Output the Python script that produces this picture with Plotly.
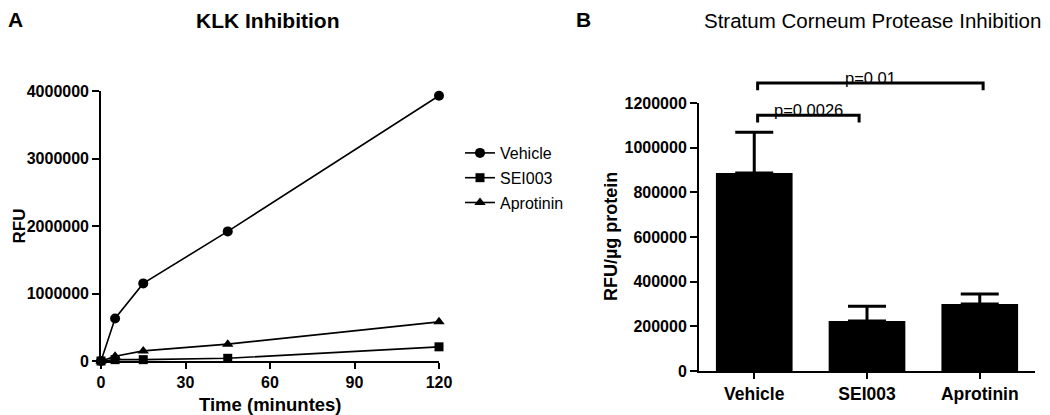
import plotly.graph_objects as go

# ---------------- Data ----------------
time_min = [0, 5, 15, 45, 120]
vehicle = [0, 630000, 1150000, 1920000, 3930000]
sei003 = [0, 20000, 20000, 40000, 210000]
aprotinin = [0, 70000, 150000, 250000, 580000]

klk_ticks = [0, 1000000, 2000000, 3000000, 4000000]
time_ticks = [0, 30, 60, 90, 120]

groups = ["Vehicle", "SEI003", "Aprotinin"]
rfu_per_ug = [887000, 224000, 300000]
rfu_sem = [182000, 66000, 45000]
sc_ticks = [0, 200000, 400000, 600000, 800000, 1000000, 1200000]

# significance brackets
bracket_x0 = [0.03, 0.03]
bracket_x1 = [0.93, 2.03]
bracket_y = [1145000, 1289000]
bracket_labels = ["p=0.0026", "p=0.01"]

FONT = "Liberation Sans, Arial, sans-serif"
OFF = 8                      # page body margin
W, H = 1050 - 2 * OFF, 415 - OFF


def xp(px):
    return (px - OFF) / W


def yp(py):
    return 1 - (py - OFF) / H


fig = go.Figure()

# ---------------- Panel A ----------------
series = [("Vehicle", vehicle, "circle", 10),
          ("SEI003", sei003, "square", 9),
          ("Aprotinin", aprotinin, "triangle-up", 10)]
for name, vals, sym, sz in series:
    fig.add_trace(go.Scatter(
        x=time_min, y=vals, name=name, mode="lines+markers",
        line=dict(color="black", width=1.6),
        marker=dict(symbol=sym, size=sz, color="black"),
        cliponaxis=False, legendgroup=name,
        xaxis="x", yaxis="y"))

# ---------------- Panel B ----------------
fig.add_trace(go.Bar(
    x=groups, y=rfu_per_ug, marker=dict(color="black", line=dict(width=0)),
    width=0.68, showlegend=False,
    error_y=dict(type="data", array=rfu_sem, arrayminus=[0] * len(rfu_sem),
                 symmetric=False, color="black", thickness=3, width=19),
    xaxis="x2", yaxis="y2"))

# bracket overlay subplot sharing scale with panel B
d_bot = yp(371)
d2_top = yp(103)
d3_top = 0.97
y3_top = sc_ticks[-1] * (d3_top - d_bot) / (d2_top - d_bot)

drop = 32000
for x0, x1, yb in zip(bracket_x0, bracket_x1, bracket_y):
    fig.add_trace(go.Scatter(
        x=[x0, x0, x1, x1], y=[yb - drop, yb, yb, yb - drop],
        mode="lines", line=dict(color="black", width=3),
        showlegend=False, hoverinfo="skip",
        xaxis="x3", yaxis="y3"))

annotations = []
for x0, x1, yb, lab in zip(bracket_x0, bracket_x1, bracket_y, bracket_labels):
    annotations.append(dict(
        x=(x0 + x1) / 2, y=yb, xref="x3", yref="y3", text=lab,
        showarrow=False, yanchor="middle", yshift=5,
        font=dict(family=FONT, size=16.5, color="black")))


def axis_common(size):
    return dict(showline=True, linecolor="black", showgrid=False,
                zeroline=False, ticks="outside", tickcolor="black",
                automargin=False,
                tickfont=dict(family=FONT, size=size, color="black",
                              weight="bold"))


fig.update_layout(
    template="none",
    width=W, height=H,
    margin=dict(l=0, r=0, t=0, b=0, pad=0, autoexpand=False),
    paper_bgcolor="white", plot_bgcolor="rgba(0,0,0,0)",
    font=dict(family=FONT, color="black"),
    xaxis=dict(domain=[xp(101), xp(439)], range=[0, 120],
               tickvals=time_ticks, ticklen=6, tickwidth=1.6, linewidth=1.6,
               anchor="y", **axis_common(16)),
    yaxis=dict(domain=[yp(361), yp(91)], range=[0, 4000000],
               tickvals=klk_ticks, ticktext=[str(v) for v in klk_ticks],
               ticklen=7, tickwidth=1.6, linewidth=1.6, anchor="x",
               **axis_common(16)),
    xaxis2=dict(domain=[xp(699), xp(1035)], range=[-0.49, 2.49],
                type="category", ticklen=6, tickwidth=2, linewidth=2,
                anchor="y2", **axis_common(17.5)),
    yaxis2=dict(domain=[d_bot, d2_top], range=[0, sc_ticks[-1]],
                tickvals=sc_ticks, ticktext=[str(v) for v in sc_ticks],
                ticklen=7, tickwidth=2, linewidth=2, anchor="x2",
                **axis_common(16)),
    xaxis3=dict(domain=[xp(699), xp(1035)], range=[-0.49, 2.49],
                visible=False, anchor="y3", automargin=False),
    yaxis3=dict(domain=[d_bot, d3_top], range=[0, y3_top],
                visible=False, anchor="x3", automargin=False),
    showlegend=True,
    legend=dict(x=xp(460), y=yp(136), xanchor="left", yanchor="top",
                font=dict(family=FONT, size=16, color="black"),
                tracegroupgap=1, traceorder="grouped",
                bgcolor="rgba(0,0,0,0)", borderwidth=0),
    bargap=0.32,
)

annotations += [
    dict(text="<b>A</b>", x=0, y=1, xref="paper", yref="paper",
         showarrow=False, xanchor="left", yanchor="top", xshift=-2, yshift=2,
         font=dict(family=FONT, size=21)),
    dict(text="<b>B</b>", x=xp(574), y=1, xref="paper", yref="paper",
         showarrow=False, xanchor="left", yanchor="top", yshift=2,
         font=dict(family=FONT, size=21)),
    dict(text="<b>KLK Inhibition</b>", x=xp(267), y=yp(21),
         xref="paper", yref="paper", showarrow=False,
         xanchor="center", yanchor="middle", font=dict(family=FONT, size=21)),
    dict(text="Stratum Corneum Protease Inhibition", x=xp(872), y=yp(21),
         xref="paper", yref="paper", showarrow=False,
         xanchor="center", yanchor="middle", font=dict(family=FONT, size=20.5)),
    dict(text="<b>Time (minuntes)</b>", x=xp(270), y=yp(404),
         xref="paper", yref="paper", showarrow=False,
         xanchor="center", yanchor="middle",
         font=dict(family=FONT, size=18.5)),
    dict(text="<b>RFU</b>", x=0, y=yp(226), xref="paper",
         yref="paper", showarrow=False, textangle=-90,
         xanchor="left", yanchor="middle", xshift=-1,
         font=dict(family=FONT, size=17)),
    dict(text="<b>RFU/µg protein</b>", x=xp(611), y=yp(237),
         xref="paper", yref="paper", showarrow=False, textangle=-90,
         xanchor="center", yanchor="middle", font=dict(family=FONT, size=18)),
]
fig.update_layout(annotations=annotations)

fig.write_html("out.html")
